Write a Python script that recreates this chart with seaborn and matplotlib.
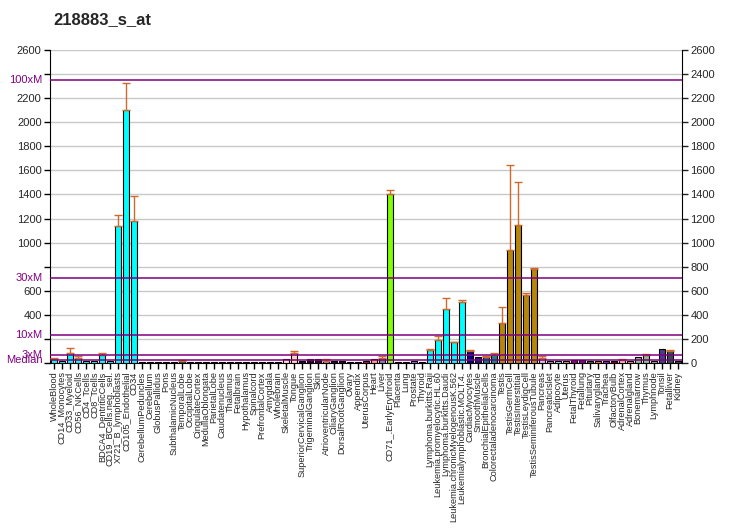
import matplotlib
matplotlib.use("Agg")
import matplotlib.pyplot as plt
import seaborn as sns
import pandas as pd

title = "218883_s_at"

categories = [
    "WholeBlood", "CD14_Monocytes", "CD33_Myeloid", "CD56_NKCells", "CD4_Tcells",
    "CD8_Tcells", "BDCA4_DentriticCells", "CD19_BCells.neg._sel.", "X721_B_lymphoblasts",
    "CD105_Endothelial", "CD34", "CerebellumPeduncles", "Cerebellum", "GlobusPallidus",
    "Pons", "SubthalamicNucleus", "TemporalLobe", "OccipitalLobe", "CingulateCortex",
    "MedullaOblongata", "ParietalLobe", "Caudatenucleus", "Thalamus", "Fetalbrain",
    "Hypothalamus", "Spinalcord", "PrefrontalCortex", "Amygdala", "Wholebrain",
    "SkeletalMuscle", "Tongue", "SuperiorCervicalGanglion", "TrigeminalGanglion", "Skin",
    "AtrioventricularNode", "CiliaryGanglion", "DorsalRootGanglion", "Ovary", "Appendix",
    "UterusCorpus", "Heart", "Liver", "CD71_.EarlyErythroid", "Placenta", "Lung",
    "Prostate", "Thyroid", "Lymphoma.burkitts.Raji", "Leukemia.promyelocytic.HL.60",
    "Lymphoma.burkitts.Daudi", "Leukemia.chronicMyelogenousK.562",
    "Leukemialymphoblastic.MOLT.4.", "CardiacMyocytes", "SmoothMuscle",
    "BronchialEpithelialCells", "Colorectaladenocarcinoma", "Testis", "TestisGermCell",
    "TestisInterstitial", "TestisLeydigCell", "TestisSeminiferousTubule", "Pancreas",
    "PancreaticIslet", "Adipocyte", "Uterus", "FetalThyroid", "Fetallung", "Pituitary",
    "Salivarygland", "Trachea", "OlfactoryBulb", "AdrenalCortex", "Adrenalgland",
    "Bonemarrow", "Thymus", "Lymphnode", "Tonsil", "Fetalliver", "Kidney",
]

values = [
    31, 19, 80, 39, 14, 14, 64, 19, 1135, 2098, 1177,
    12, 12, 12, 12, 12, 14, 12, 12, 12, 12, 12, 12, 12, 12, 12, 12, 12, 12,
    33, 80, 15, 30, 30, 18, 15, 15, 12, 12, 15,
    33, 39, 1401, 11, 11, 17, 11,
    105, 188, 446, 172, 504, 97, 47, 47, 64,
    330, 936, 1143, 562, 778,
    39, 17, 17, 17, 22, 22, 17, 17, 17, 17, 28, 19, 50, 66, 20, 116, 100, 20,
]

err_tops = [
    39, 19, 122, 58, 14, 14, 80, 19, 1226, 2322, 1384,
    12, 12, 12, 12, 12, 25, 12, 12, 12, 12, 12, 12, 12, 12, 12, 12, 12, 12,
    33, 97, 15, 30, 30, 30, 15, 15, 12, 12, 15,
    33, 58, 1434, 11, 11, 17, 11,
    114, 224, 537, 175, 521, 105, 47, 57, 81,
    463, 1642, 1500, 580, 787,
    56, 17, 17, 17, 22, 22, 17, 17, 17, 17, 33, 19, 50, 74, 20, 116, 111, 20,
]

colors = (
    ["#00FFFF"] * 11
    + ["#0A5F0A"] * 18
    + ["#FFE4C4", "#FFDAB9", "#2B0A2B", "#2B0A2B", "#3A0A2A", "#BC8F8F", "#2B0A2B",
       "#2B0A2B", "#1E1EFF", "#9932CC", "#B22222"]
    + ["#FFA07A", "#778899", "#7FFF00", "#FF7F50", "#FA8072", "#9370DB", "#DC143C"]
    + ["#00FFFF"] * 5
    + ["#000080", "#191970", "#008080", "#108B8B"]
    + ["#B8860B"] * 5
    + ["#D8BFD8", "#A9A9A9", "#7FFFD4", "#BDB76B", "#8B008B", "#8B008B", "#556B2F",
       "#FF8C00", "#9932CC", "#8B0000", "#FFB6C1", "#E9967A", "#8FBC8F", "#8FBC8F",
       "#8FBC8F", "#483D8B", "#2F4F4F", "#2F4F4F"]
)

median = 23.5
ref_lines = [("Median", median), ("3xM", 3 * median), ("10xM", 10 * median),
             ("30xM", 30 * median), ("100xM", 100 * median)]

left_labels = {2600: "2600", 2200: "2200", 2000: "2000", 1800: "1800", 1600: "1600",
               1400: "1400", 1200: "1200", 1000: "1000", 600: "600", 400: "400"}
yticks = list(range(0, 2601, 200))

sns.set_style("white")
plt.rcParams["font.family"] = ["Liberation Sans", "DejaVu Sans"]

fig = plt.figure(figsize=(7.32, 5.30), dpi=100)
ax = fig.add_axes([50 / 732, 1 - 363 / 530, 632 / 732, 313 / 530])

df = pd.DataFrame({"cat": categories, "val": values})
sns.barplot(data=df, x="cat", y="val", hue="cat", palette=colors, legend=False,
            saturation=1, edgecolor="black", linewidth=0.8, width=0.75, ax=ax, zorder=3)

xs = list(range(len(categories)))
ex, ev, eu = [], [], []
for i, (t, v) in enumerate(zip(err_tops, values)):
    if t > v:
        ex.append(i)
        ev.append(v)
        eu.append(t - v)
ax.errorbar(ex, ev, yerr=[[0] * len(eu), eu], fmt="none", ecolor="#CD6A2E",
            elinewidth=1, capsize=3, capthick=1, zorder=4)

ax.set_xlim(-0.5, len(categories) - 0.5)
ax.set_ylim(0, 2600)

for y in yticks:
    ax.axhline(y, color="#C8C8C8", lw=1, zorder=1)
for name, y in ref_lines:
    ax.axhline(y, color="#800080", lw=1.1, zorder=5)

ax.set_yticks(yticks)
ax.set_yticklabels([left_labels.get(y, "") for y in yticks], fontsize=8)
for name, y in ref_lines:
    ax.text(-0.012, y, name, transform=ax.get_yaxis_transform(), ha="right",
            va="center", color="#800080", fontsize=8)

ax.set_xticks(xs)
ax.set_xticklabels(categories, rotation=90, fontsize=6.6)
ax.set_xlabel("")
ax.set_ylabel("")
ax.tick_params(axis="both", direction="out", length=4, width=1, color="black",
               bottom=True, left=True, pad=2)

ax2 = ax.twinx()
ax2.set_ylim(0, 2600)
ax2.set_yticks(yticks)
ax2.set_yticklabels([str(y) for y in yticks], fontsize=8)
ax2.tick_params(axis="y", direction="out", length=4, width=1, pad=2)

for a in (ax, ax2):
    a.spines["top"].set_visible(False)
    a.spines["left"].set_color("black")
    a.spines["right"].set_color("black")
    a.spines["bottom"].set_color("black")
ax.spines["right"].set_visible(False)
ax2.spines["left"].set_visible(False)
ax2.spines["bottom"].set_visible(False)

fig.text(53 / 732, 1 - 20 / 530, title, fontsize=12, fontweight="bold",
         ha="left", va="center")

fig.savefig("out.png", dpi=100)
